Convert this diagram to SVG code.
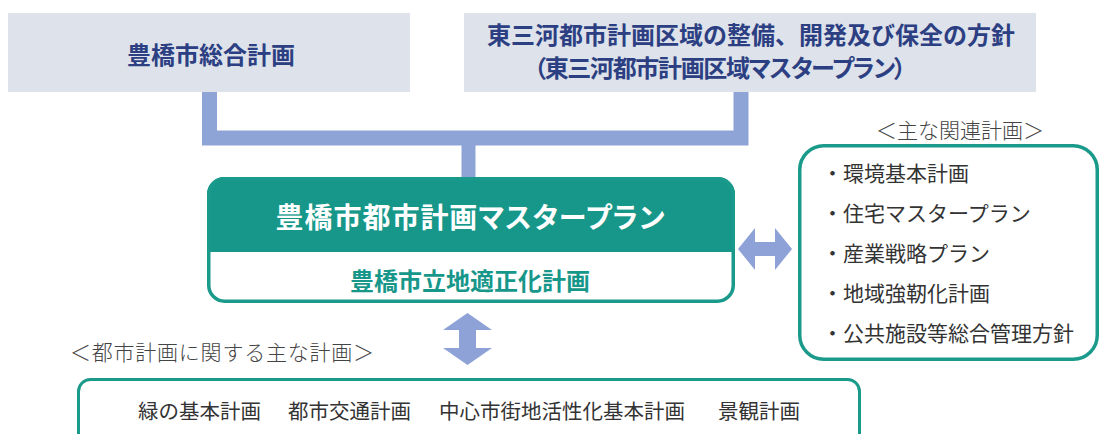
<svg xmlns="http://www.w3.org/2000/svg" width="1102" height="434" viewBox="0 0 1102 434">
<style>
.jp{font-family:"Noto Sans CJK JP","Noto Sans CJK SC",sans-serif;}
.top{font-size:24px;font-weight:700;fill:#2c3f82;}
.item{font-size:21px;font-weight:400;fill:#333;}
.lbl{font-size:21px;font-weight:300;fill:#444;}
.teal{stroke:#1a9a8a;}
.conn{fill:none;stroke:#8fa4d6;}
.arr{fill:#8fa2d8;}
</style>
<rect width="1102" height="434" fill="#ffffff"/>
<g id="node-sogo">
<rect x="8" y="13" width="402" height="79" fill="#dee2ea"/>
<text class="jp top" x="211" y="53" text-anchor="middle" dominant-baseline="central">豊橋市総合計画</text>
</g>
<g id="node-higashimikawa">
<rect x="464" y="13" width="572" height="79" fill="#dee2ea"/>
<text class="jp top" x="751" y="33" text-anchor="middle" dominant-baseline="central">東三河都市計画区域の整備、開発及び保全の方針</text>
<text class="jp top" x="534" y="66" dominant-baseline="central" style="font-feature-settings:'palt'" textLength="372" lengthAdjust="spacing">（東三河都市計画区域マスタープラン）</text>
</g>
<g id="connectors">
<path class="conn" d="M209.5 92 V138 H741 V92" stroke-width="15"/>
<path class="conn" d="M468.5 138 V178" stroke-width="14"/>
<polygon class="arr" points="738,249 755,228 755,242 775,242 775,228 792,249 775,270 775,256 755,256 755,270"/>
<polygon class="arr" points="467.5,313 492,330 476,330 476,348 492,348 467.5,365 443,348 459,348 459,330 443,330"/>
</g>
<g id="node-master">
<path d="M207 194 A17 17 0 0 1 224 177 H718 A17 17 0 0 1 735 194 V252 H207 Z" fill="#17978a"/>
<rect class="teal" x="208.75" y="178.75" width="524.5" height="122.5" rx="16" fill="none" stroke-width="3.5"/>
<text class="jp" x="470" y="216" text-anchor="middle" dominant-baseline="central" font-size="28" font-weight="700" fill="#ffffff" style="font-feature-settings:'palt'" textLength="389" lengthAdjust="spacing">豊橋市都市計画マスタープラン</text>
<text class="jp" x="470" y="279" text-anchor="middle" dominant-baseline="central" font-size="24" font-weight="700" fill="#17978a">豊橋市立地適正化計画</text>
</g>
<g id="label-related">
<text class="jp lbl" x="960" y="129" text-anchor="middle" dominant-baseline="central">＜主な関連計画＞</text>
</g>
<g id="node-related">
<rect class="teal" x="799.75" y="145.75" width="297.5" height="213.5" rx="24" fill="#ffffff" stroke-width="3.5"/>
<text class="jp item" x="822" y="172" dominant-baseline="central">・環境基本計画</text>
<text class="jp item" x="822" y="212" dominant-baseline="central">・住宅マスタープラン</text>
<text class="jp item" x="822" y="252" dominant-baseline="central">・産業戦略プラン</text>
<text class="jp item" x="822" y="292" dominant-baseline="central">・地域強靭化計画</text>
<text class="jp item" x="822" y="332" dominant-baseline="central">・公共施設等総合管理方針</text>
</g>
<g id="label-city">
<text class="jp lbl" x="70" y="351" dominant-baseline="central" font-size="22" textLength="304" lengthAdjust="spacing">＜都市計画に関する主な計画＞</text>
</g>
<g id="node-city">
<rect class="teal" x="78.5" y="379.5" width="781" height="80" rx="12" fill="#ffffff" stroke-width="3"/>
<text class="jp" y="410" dominant-baseline="central" font-size="20.5" font-weight="400" fill="#333"><tspan x="138">緑の基本計画</tspan><tspan x="288">都市交通計画</tspan><tspan x="439">中心市街地活性化基本計画</tspan><tspan x="718">景観計画</tspan></text>
</g>
</svg>
